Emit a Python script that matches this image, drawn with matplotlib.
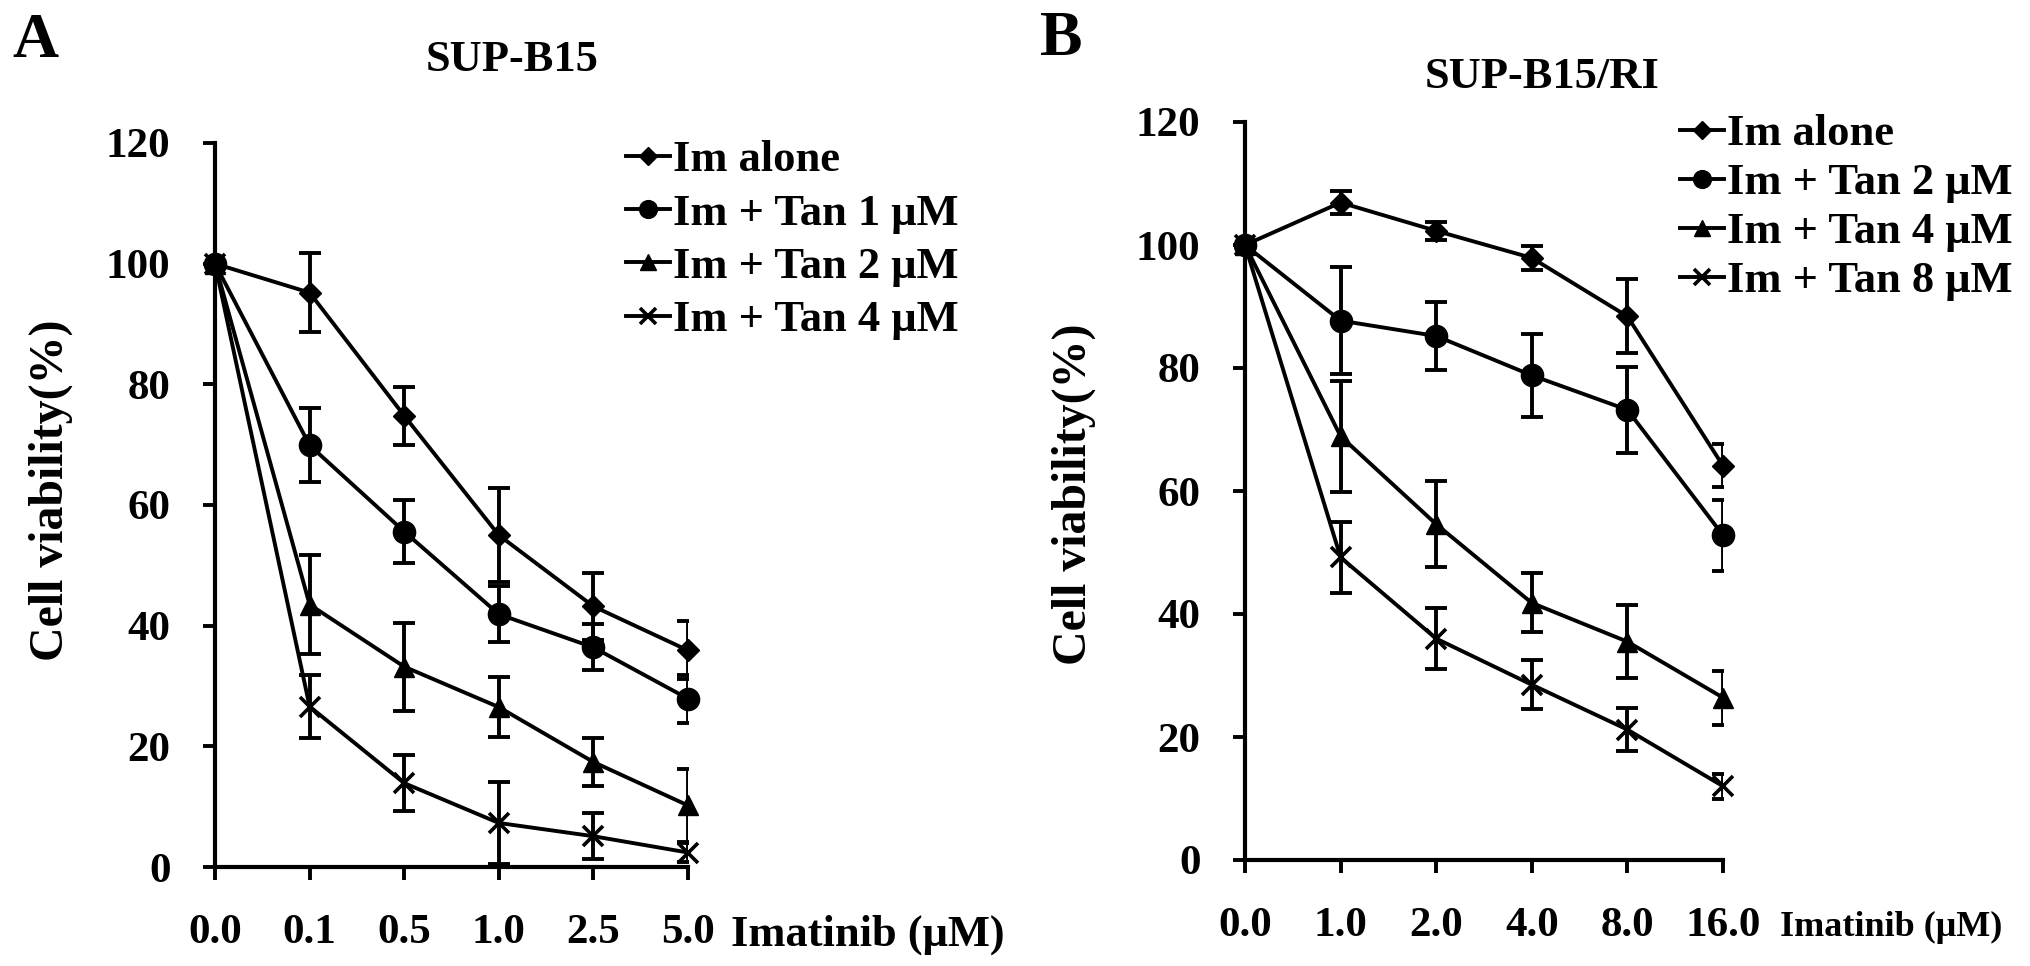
import matplotlib
matplotlib.use('Agg')
import matplotlib.pyplot as plt

plt.rcParams['font.family'] = ['Liberation Serif', 'DejaVu Serif']
plt.rcParams['font.weight'] = 'bold'

# Panel A: SUP-B15
dosis_a = ['0.0', '0.1', '0.5', '1.0', '2.5', '5.0']
labels_a = ['Im alone', 'Im + Tan 1 μM', 'Im + Tan 2 μM', 'Im + Tan 4 μM']
im_alone_a = [100, 95.2, 74.8, 55.0, 43.2, 35.9]
im_alone_a_err = [0, 6.6, 4.8, 7.8, 5.6, 4.8]
tan1_a = [100, 69.9, 55.6, 41.9, 36.4, 27.9]
tan1_a_err = [0, 6.1, 5.2, 4.6, 3.8, 4.0]
tan2_a = [100, 43.5, 33.2, 26.5, 17.4, 10.2]
tan2_a_err = [0, 8.2, 7.3, 5.0, 4.0, 6.0]
tan4_a = [100, 26.6, 13.9, 7.3, 5.1, 2.4]
tan4_a_err = [0, 5.2, 4.6, 6.8, 3.8, 1.5]

# Panel B: SUP-B15/RI
dosis_b = ['0.0', '1.0', '2.0', '4.0', '8.0', '16.0']
labels_b = ['Im alone', 'Im + Tan 2 μM', 'Im + Tan 4 μM', 'Im + Tan 8 μM']
im_alone_b = [100, 106.9, 102.3, 97.9, 88.4, 64.1]
im_alone_b_err = [0, 1.8, 1.5, 2.0, 6.0, 3.5]
tan2_b = [100, 87.7, 85.2, 78.8, 73.2, 52.8]
tan2_b_err = [0, 8.7, 5.5, 6.8, 7.0, 5.8]
tan4_b = [100, 68.9, 54.6, 41.8, 35.5, 26.4]
tan4_b_err = [0, 9.0, 7.0, 4.8, 5.9, 4.4]
tan8_b = [100, 49.2, 36.0, 28.5, 21.2, 12.0]
tan8_b_err = [0, 5.8, 5.0, 4.0, 3.5, 2.0]

markers = [('D', 11), ('o', 16), ('^', 15), ('x', 15)]


def draw_panel(ax, dosis, series, errors, labels):
    x = list(range(len(dosis)))
    lines = []
    for vals, errs, lab, (mk, ms) in zip(series, errors, labels, markers):
        ax.errorbar(x, vals, yerr=errs, fmt='none', ecolor='black',
                    elinewidth=2.8, capsize=8, capthick=2.8, zorder=2)
        ln, = ax.plot(x, vals, color='black', linewidth=2.8, marker=mk,
                      markersize=ms, markeredgewidth=2.6 if mk == 'x' else 1,
                      markerfacecolor='black', markeredgecolor='black',
                      label=lab, zorder=3, clip_on=False)
        lines.append(ln)
    ax.set_xlim(0, len(dosis) - 1)
    ax.set_ylim(0, 120)
    ax.set_xticks(x)
    ax.set_xticklabels(dosis)
    ax.set_yticks(range(0, 121, 20))
    for s in ['top', 'right']:
        ax.spines[s].set_visible(False)
    for s in ['left', 'bottom']:
        ax.spines[s].set_linewidth(3)
    ax.tick_params(axis='both', direction='out', length=9, width=2.8,
                   labelsize=31)
    ax.tick_params(axis='y', pad=23)
    ax.tick_params(axis='x', pad=25)
    return lines


W, H = 2031, 966
fig = plt.figure(figsize=(W / 100, H / 100), dpi=100)

ax1 = fig.add_axes([215 / W, 1 - 867 / H, 473 / W, 724 / H])
ax2 = fig.add_axes([1245 / W, 1 - 860 / H, 478 / W, 738 / H])

lines1 = draw_panel(ax1, dosis_a, [im_alone_a, tan1_a, tan2_a, tan4_a],
                    [im_alone_a_err, tan1_a_err, tan2_a_err, tan4_a_err], labels_a)
lines2 = draw_panel(ax2, dosis_b, [im_alone_b, tan2_b, tan4_b, tan8_b],
                    [im_alone_b_err, tan2_b_err, tan4_b_err, tan8_b_err], labels_b)

for ax, lines, (lx, ly), sp in [(ax1, lines1, (626, 140), 0.30),
                                (ax2, lines2, (1680, 114), 0.20)]:
    ax.legend(handles=lines, loc='upper left', bbox_to_anchor=(lx / W, 1 - ly / H),
              bbox_transform=fig.transFigure, frameon=False, fontsize=32,
              handlelength=1.0, handletextpad=0.05, labelspacing=sp,
              borderpad=0, borderaxespad=0, markerscale=0.8)

ax1.set_ylabel('Cell viability(%)', fontsize=34.5, fontweight='bold')
ax1.yaxis.set_label_coords(-0.30, 0.52)
ax2.set_ylabel('Cell viability(%)', fontsize=34.5, fontweight='bold')
ax2.yaxis.set_label_coords(-0.312, 0.496)

fig.text(731 / W, 1 - 935 / H, 'Imatinib (μM)', fontsize=32,
         fontweight='bold', ha='left', va='center')
fig.text(1780 / W, 1 - 927 / H, 'Imatinib (μM)', fontsize=26,
         fontweight='bold', ha='left', va='center')

fig.text(512 / W, 1 - 60 / H, 'SUP-B15', fontsize=32, fontweight='bold',
         ha='center', va='center')
fig.text(1542 / W, 1 - 77 / H, 'SUP-B15/RI', fontsize=32, fontweight='bold',
         ha='center', va='center')

fig.text(12 / W, 1 - 42 / H, 'A', fontsize=46, fontweight='bold',
         ha='left', va='center')
fig.text(1040 / W, 1 - 40 / H, 'B', fontsize=46, fontweight='bold',
         ha='left', va='center')

plt.savefig('out.png', dpi=100)
plt.close()
